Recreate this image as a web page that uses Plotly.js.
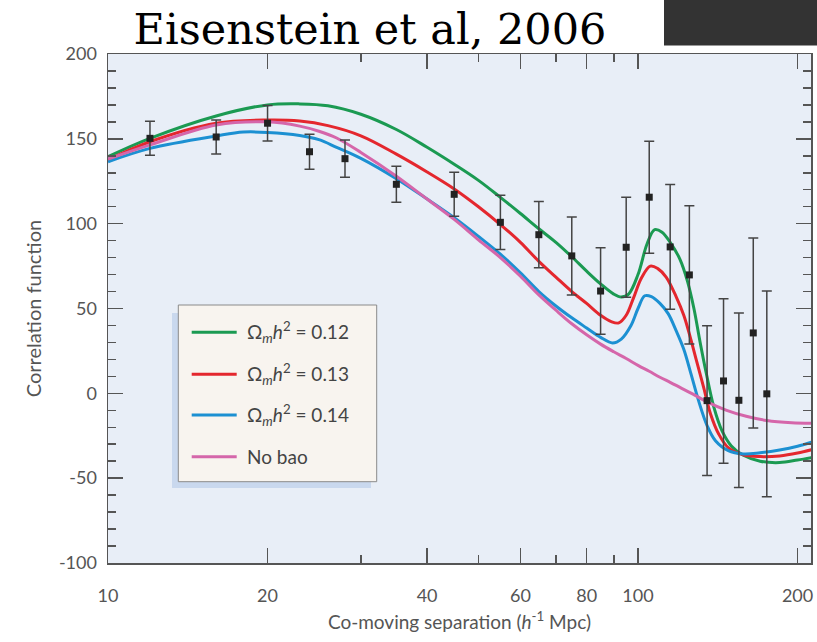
<!DOCTYPE html>
<html><head><meta charset="utf-8">
<script src="https://cdn.plot.ly/plotly-3.0.1.min.js"></script>
<style>html,body{margin:0;padding:0;background:#fff}</style>
</head><body><div id="chart" style="width:817px;height:642px"></div>
<script>
// ---- data ----
const sepPoints  = [12, 16, 20, 24, 28, 35, 45, 55, 65, 75, 85, 95, 105, 115, 125, 135, 145, 155, 165, 175];
const corrPoints = [150.3, 151.1, 159.2, 142.4, 138.3, 123.2, 117.3, 100.8, 93.5, 81.0, 60.3, 86.1, 115.6, 86.3, 69.8, -4.3, 7.3, -4.1, 35.6, -0.3];
const corrErrors = [10, 10, 10.5, 10.3, 11, 10.6, 13, 16, 19.5, 23, 25.5, 29.5, 33, 36.8, 40.7, 44.2, 48.5, 51.4, 56, 60.6];

const xGreen = [10, 12, 16, 20, 23, 26, 30, 35, 40, 45, 50, 55, 60, 65, 70, 75, 80, 85, 90, 93, 96, 100, 104, 107.5, 111, 115, 120, 124, 127.5, 131, 134.5, 139, 144, 150, 158, 170, 185, 200, 214];
const yGreen = [139.5, 150.3, 163.5, 170, 170.6, 169.5, 164.5, 155.5, 145, 135, 125.5, 115.5, 106, 97, 89, 80.5, 72, 64.5, 58.5, 56.8, 58.5, 70, 88, 96.5, 95, 89, 79, 66, 50, 30, 12, -8, -22, -31, -36.5, -40, -40.8, -39.3, -37.7];

const xRed = [10, 12, 16, 20, 23, 26, 30, 35, 40, 45, 50, 55, 60, 65, 70, 75, 80, 85, 89, 92, 95, 98, 101.5, 105.5, 109, 113, 118, 122, 125.5, 129, 133, 137, 142, 148, 158, 170, 185, 200, 214];
const yRed = [137.5, 148.3, 159.2, 161.1, 160.5, 157.8, 151.8, 141, 130.5, 120.5, 110, 99.5, 89, 77.8, 68.5, 60, 53, 46, 42.3, 41.5, 46, 56, 68, 75, 73.5, 68.5, 57, 46, 33, 19, 3.5, -12, -24, -32, -36.3, -37.3, -36.9, -35.2, -33];

const xBlue = [10, 12, 16, 18, 20, 23, 25, 27, 30, 35, 40, 45, 50, 55, 60, 65, 70, 75, 80, 85, 89.5, 93, 97, 100, 103, 106, 110, 114, 118, 122, 126, 130, 135, 140, 148, 158, 170, 185, 200, 214];
const yBlue = [136.5, 144.4, 151.7, 154, 153.8, 152, 149.5, 145, 138.5, 126.5, 114.5, 103.5, 92.5, 82, 71, 60, 51.5, 44.5, 38.5, 33, 29.7, 32, 40, 50, 57.5, 57, 53, 47, 37, 26, 11, -4, -19, -28, -33.8, -35.7, -35, -33.4, -31.2, -28.5];

const xNoBao = [10, 12, 16, 20, 23, 25, 27, 30, 35, 40, 45, 50, 55, 60, 65, 70, 75, 80, 85, 90, 95, 100, 105, 110, 115, 120, 127, 135, 147, 160, 175, 195, 214];
const yNoBao = [138, 146.4, 158.2, 160, 157.5, 154.5, 150.5, 142, 128, 114.5, 102.5, 90.5, 80, 69, 58, 49, 41, 34.5, 29, 24.5, 20.5, 16.5, 13, 9.5, 6.5, 3.5, -0.5, -5, -10, -13.5, -16, -17.3, -17.6];

const seriesNames = [
  'Ω<sub><i>m</i></sub><i>h</i><sup>2</sup> = 0.12',
  'Ω<sub><i>m</i></sub><i>h</i><sup>2</sup> = 0.13',
  'Ω<sub><i>m</i></sub><i>h</i><sup>2</sup> = 0.14',
  'No bao'
];
const seriesColors = ['#1b9a52', '#e4272e', '#1c90d2', '#d566aa'];
const xTickVals  = [10, 20, 40, 60, 80, 100, 200];
const xMinorVals = [30, 50, 70, 90];
const yTickVals  = [-100, -50, 0, 50, 100, 150, 200];
const yTickText  = ['-100', '-50', '0', '50', '100', '150', '200'];

// ---- layout geometry ----
const W = 817, H = 642;
const M = {l: 108, r: 6, t: 54, b: 79};
const PW = W - M.l - M.r, PH = H - M.t - M.b;
const px = v => (v - M.l) / PW;           // pixel x -> paper
const py = v => (H - M.b - v) / PH;       // pixel y -> paper

const curves = [[xGreen, yGreen], [xRed, yRed], [xBlue, yBlue], [xNoBao, yNoBao]];
const traces = curves.map((c, i) => ({
  x: c[0], y: c[1], type: 'scatter', mode: 'lines', name: seriesNames[i],
  line: {color: seriesColors[i], width: 3, shape: 'spline', smoothing: 1},
  showlegend: false, hoverinfo: 'skip'
}));
traces.push({
  x: sepPoints, y: corrPoints, type: 'scatter', mode: 'markers', name: 'data',
  marker: {symbol: 'square', size: 7, color: '#222'},
  error_y: {type: 'data', array: corrErrors, visible: true, color: '#444', thickness: 1.5, width: 5},
  showlegend: false
});

const shapes = [
  // dark block top right
  {type: 'rect', xref: 'paper', yref: 'paper', x0: px(664), x1: px(830), y0: py(45.5), y1: py(-10),
   fillcolor: '#333333', line: {width: 0}, layer: 'above'},
  // legend shadow
  {type: 'rect', xref: 'paper', yref: 'paper', x0: px(172), x1: px(371), y0: py(488), y1: py(313),
   fillcolor: '#c9d8ee', line: {width: 0}, layer: 'above'},
  // legend box
  {type: 'rect', xref: 'paper', yref: 'paper', x0: px(178.3), x1: px(376.7), y0: py(481.7), y1: py(305),
   fillcolor: '#f8f4ef', line: {color: '#8a8a8a', width: 1}, layer: 'above'}
];
const legendY = [332.3, 374.3, 415, 456.7];
const annotations = [];
legendY.forEach((yy, i) => {
  shapes.push({type: 'line', xref: 'paper', yref: 'paper', x0: px(191.7), x1: px(236.7), y0: py(yy), y1: py(yy),
    line: {color: seriesColors[i], width: 3}, layer: 'above'});
  annotations.push({xref: 'paper', yref: 'paper', x: px(245), y: py(yy), xanchor: 'left', yanchor: 'middle',
    text: seriesNames[i], showarrow: false, font: {family: 'Lato, sans-serif', size: 19, color: '#444'}});
});

const layout = {
  width: W, height: H, margin: M,
  paper_bgcolor: '#ffffff', plot_bgcolor: '#e8eef7',
  title: {text: 'Eisenstein et al, 2006', xref: 'container', yref: 'container',
          x: 370 / W, xanchor: 'center', y: 1 - 29 / H, yanchor: 'middle',
          font: {family: 'DejaVu Serif, serif', size: 43, color: '#000'}},
  xaxis: {
    type: 'log', range: [1, 1 + PW / 530],
    tickmode: 'array', tickvals: xTickVals, ticktext: xTickVals.map(String),
    ticks: 'inside', ticklen: 15, tickwidth: 1.5, tickcolor: '#555',
    minor: {tickmode: 'array', tickvals: xMinorVals, ticks: 'inside', ticklen: 8, tickwidth: 1.5, tickcolor: '#555'},
    showline: true, linecolor: '#555', linewidth: 1.5, mirror: 'ticks',
    showgrid: false, zeroline: false, ticklabelstandoff: 16,
    tickfont: {family: 'Lato, sans-serif', size: 18, color: '#555'},
    title: {text: 'Co-moving separation (<i>h</i><sup>-1</sup> Mpc)', standoff: 10,
            font: {family: 'Lato, sans-serif', size: 19, color: '#555'}}
  },
  yaxis: {
    range: [-100, 200], tickmode: 'array', tickvals: yTickVals, ticktext: yTickText,
    ticks: 'inside', ticklen: 15, tickwidth: 1.5, tickcolor: '#555',
    minor: {dtick: 10, ticks: 'inside', ticklen: 8, tickwidth: 1.5, tickcolor: '#555'},
    showline: true, linecolor: '#555', linewidth: 1.5, mirror: 'ticks',
    showgrid: false, zeroline: false, ticklabelstandoff: 6,
    tickfont: {family: 'Lato, sans-serif', size: 18, color: '#555'},
    title: {text: 'Correlation function', standoff: 12,
            font: {family: 'Lato, sans-serif', size: 20, color: '#555'}}
  },
  shapes: shapes, annotations: annotations, showlegend: false
};

Plotly.newPlot('chart', traces, layout, {staticPlot: true, displayModeBar: false});
</script></body></html>
